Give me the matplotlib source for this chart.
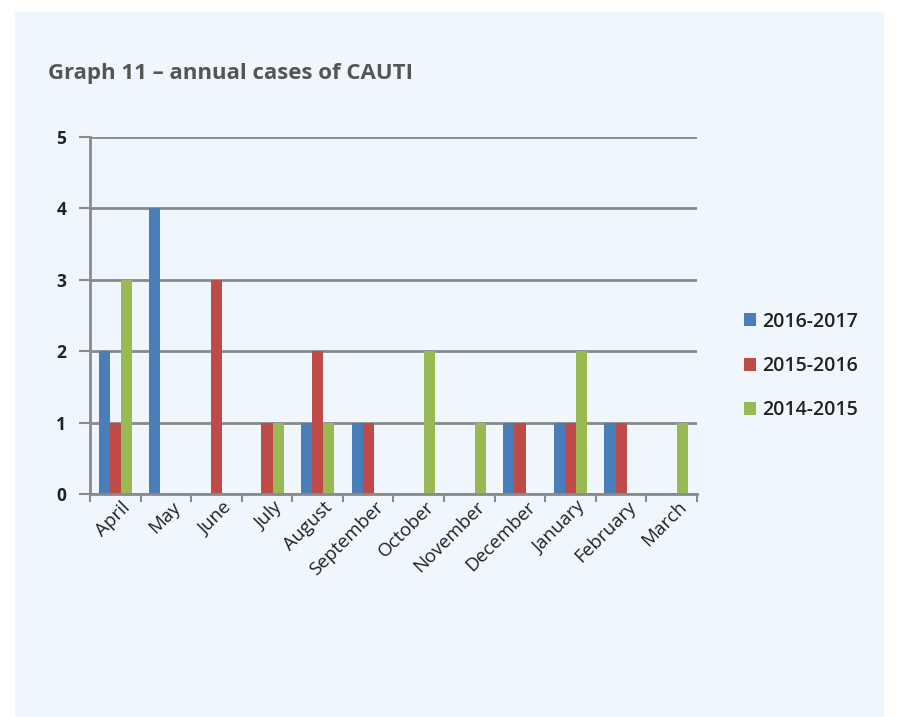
import matplotlib
matplotlib.use("Agg")
import matplotlib.pyplot as plt
import numpy as np
from matplotlib.patches import Rectangle
from matplotlib.transforms import ScaledTranslation

months = ["April", "May", "June", "July", "August", "September", "October",
          "November", "December", "January", "February", "March"]
s2016_2017 = [2, 4, 0, 0, 1, 1, 0, 0, 1, 1, 1, 0]
s2015_2016 = [1, 0, 3, 1, 2, 1, 0, 0, 1, 1, 1, 0]
s2014_2015 = [3, 0, 0, 1, 1, 0, 2, 1, 0, 2, 0, 1]
series_names = ["2016-2017", "2015-2016", "2014-2015"]
colors = ["#4a7ebb", "#be4b48", "#98b954"]

W, H = 899, 717
fig = plt.figure(figsize=(W / 100, H / 100), dpi=100)
fig.patch.set_facecolor("white")
bg = "#eff6fc"
fig.patches.append(Rectangle((15 / W, 0), (884 - 15) / W, (717 - 12) / H,
                             transform=fig.transFigure, facecolor=bg,
                             edgecolor="none", zorder=-10))

fig.text(48 / W, 1 - 74 / H, "Graph 11 \u2013 annual cases of CAUTI",
         fontsize=16, fontweight="bold", color="#555555",
         family="Open Sans", va="center", ha="left")

ax = fig.add_axes([90 / W, 1 - 494 / H, (697 - 90) / W, (494 - 137) / H])
ax.set_facecolor(bg)
x = np.arange(len(months))
bw = 0.22
for i, (vals, c, name) in enumerate(zip([s2016_2017, s2015_2016, s2014_2015], colors, series_names)):
    ax.bar(x + (i - 1) * bw, vals, width=bw, color=c, label=name, zorder=3)

ax.set_xlim(-0.5, len(months) - 0.5)
ax.set_ylim(0, 5)
ax.set_yticks(range(6))
ax.yaxis.grid(True, color="#8a8a8a", linewidth=2, zorder=1)
for s in ["top", "right"]:
    ax.spines[s].set_visible(False)
ax.spines["left"].set_color("#8a8a8a")
ax.spines["left"].set_linewidth(2)
ax.spines["bottom"].set_color("#8a8a8a")
ax.spines["bottom"].set_linewidth(2)
ax.spines["bottom"].set_zorder(4)

ax.set_xticks(np.arange(-0.5, len(months), 1.0))
ax.set_xticklabels([])
ax.tick_params(axis="x", which="major", length=6, width=1.5, color="#8a8a8a")
ax.set_xticks(x, minor=True)
ax.set_xticklabels(months, minor=True, rotation=45, ha="right", va="top",
                   rotation_mode="anchor", fontsize=13.5, color="#222222",
                   family="Open Sans")
ax.tick_params(axis="x", which="minor", length=0, pad=3)
off = ScaledTranslation(6 / 100, 0, fig.dpi_scale_trans)
for t in ax.get_xticklabels(minor=True):
    t.set_transform(t.get_transform() + off)
ax.tick_params(axis="y", length=8, width=1.5, color="#8a8a8a", pad=9,
               labelsize=12.5, labelcolor="#222222")
for t in ax.get_yticklabels():
    t.set_fontweight("bold")
    t.set_family("Open Sans")

leg = fig.legend(*ax.get_legend_handles_labels(), loc="center left",
                 bbox_to_anchor=(726 / W, 1 - 366 / H), frameon=False,
                 prop={"family": "Open Sans", "size": 14, "weight": "semibold"},
                 handlelength=0.65, handleheight=0.65, handletextpad=0.3,
                 labelspacing=1.25, labelcolor="#222222")

fig.savefig("out.png", dpi=100, facecolor="white")
